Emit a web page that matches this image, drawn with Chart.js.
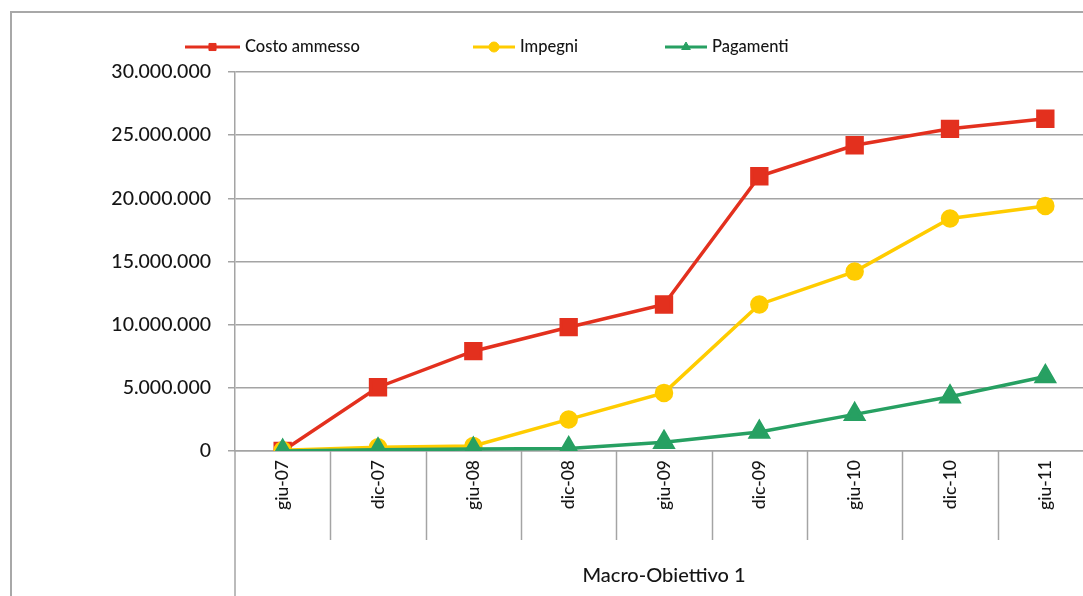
<!DOCTYPE html>
<html>
<head>
<meta charset="utf-8">
<script src="https://cdn.jsdelivr.net/npm/chart.js@4/dist/chart.umd.min.js"></script>
<style>
  html, body { margin: 0; padding: 0; background: #fff; overflow: hidden; }
  #wrap { position: relative; width: 1110px; height: 596px; }
</style>
</head>
<body>
<div id="wrap"><canvas id="c"></canvas></div>
<script>
const categories = ['giu-07','dic-07','giu-08','dic-08','giu-09','dic-09','giu-10','dic-10','giu-11'];
const costoAmmesso = [0, 5050000, 7900000, 9800000, 11600000, 21750000, 24200000, 25500000, 26300000];
const impegni = [50000, 300000, 400000, 2500000, 4600000, 11600000, 14200000, 18400000, 19400000];
const pagamenti = [0, 100000, 150000, 200000, 700000, 1500000, 2900000, 4300000, 5900000];
const seriesNames = ['Costo ammesso', 'Impegni', 'Pagamenti'];
const yTicks = [0, 5000000, 10000000, 15000000, 20000000, 25000000, 30000000];
const axisTitle = 'Macro-Obiettivo 1';

const FONT = 'Lato, "Open Sans", sans-serif';
const GRID = '#a4a4a4';
const TEXT = '#151515';

function fmt(v) {
  return String(Math.round(v)).replace(/\B(?=(\d{3})+(?!\d))/g, '.');
}

const decor = {
  id: 'decor',
  beforeDraw(chart) {
    const ctx = chart.ctx;
    ctx.save();
    ctx.strokeStyle = '#a8a8a8';
    ctx.lineWidth = 2;
    ctx.strokeRect(11, 12, chart.width + 20, chart.height + 20);
    ctx.restore();
  },
  afterDraw(chart) {
    const ctx = chart.ctx;
    const ca = chart.chartArea;
    const xs = chart.scales.x;
    const n = chart.data.labels.length;
    ctx.save();
    ctx.strokeStyle = GRID;
    ctx.lineWidth = 1.5;
    for (let i = 1; i <= n; i++) {
      const x = Math.round(xs.left + i * xs.width / n) + 0.5;
      ctx.beginPath();
      ctx.moveTo(x, ca.bottom);
      ctx.lineTo(x, ca.bottom + 89);
      ctx.stroke();
    }
    ctx.beginPath();
    ctx.moveTo(ca.left, ca.bottom);
    ctx.lineTo(ca.left, chart.height);
    ctx.stroke();

    const items = [
      { x: 185, len: 55 },
      { x: 473, len: 42 },
      { x: 665, len: 42 }
    ];
    const y = 47;
    chart.data.datasets.forEach((ds, i) => {
      const it = items[i];
      ctx.strokeStyle = ds.borderColor;
      ctx.lineWidth = 3;
      ctx.beginPath();
      ctx.moveTo(it.x, y);
      ctx.lineTo(it.x + it.len, y);
      ctx.stroke();
      ctx.fillStyle = ds.pointBackgroundColor;
      ctx.strokeStyle = ds.pointBackgroundColor;
      ctx.lineWidth = 1;
      Chart.helpers.drawPoint(ctx, { pointStyle: ds.pointStyle, radius: 5, borderWidth: 1, rotation: 0 }, it.x + it.len / 2, y);
      ctx.fillStyle = TEXT;
      ctx.font = '500 16.5px ' + FONT;
      ctx.textBaseline = 'middle';
      ctx.textAlign = 'left';
      ctx.fillText(ds.label, it.x + it.len + 5, y);
    });
    ctx.restore();
  }
};

new Chart(document.getElementById('c'), {
  type: 'line',
  data: {
    labels: categories,
    datasets: [
      { label: seriesNames[0], data: costoAmmesso, borderColor: '#E3301E', backgroundColor: '#E3301E',
        pointBackgroundColor: '#E3301E', pointBorderColor: '#E3301E', pointStyle: 'rect', pointRadius: 10.5,
        borderWidth: 3.5, order: 3 },
      { label: seriesNames[1], data: impegni, borderColor: '#FFCC00', backgroundColor: '#FFCC00',
        pointBackgroundColor: '#FFCC00', pointBorderColor: '#FFCC00', pointStyle: 'circle', pointRadius: 7.5,
        borderWidth: 3.5, order: 2 },
      { label: seriesNames[2], data: pagamenti, borderColor: '#27A062', backgroundColor: '#27A062',
        pointBackgroundColor: '#27A062', pointBorderColor: '#27A062', pointStyle: 'triangle', pointRadius: 10,
        borderWidth: 3.5, order: 1 }
    ]
  },
  options: {
    responsive: true,
    maintainAspectRatio: false,
    animation: false,
    layout: { padding: { top: 72, right: 17, bottom: 0, left: 0 } },
    plugins: { legend: { display: false }, tooltip: { enabled: false } },
    elements: { line: { tension: 0 }, point: { borderWidth: 1 } },
    scales: {
      x: {
        offset: true,
        grid: { display: true, drawOnChartArea: false, drawTicks: false, offset: true, color: GRID, lineWidth: 1.5 },
        border: { display: true, color: GRID, width: 1.5 },
        ticks: { minRotation: 90, maxRotation: 90, padding: 9, color: TEXT, font: { family: FONT, size: 17.5, weight: '500' } },
        title: { display: true, text: axisTitle, color: TEXT, font: { family: FONT, size: 20, weight: '500' }, padding: { top: 4, bottom: 8 } },
        afterFit(scale) { scale.height = 145; }
      },
      y: {
        min: 0, max: 30000000,
        afterBuildTicks(scale) { scale.ticks = yTicks.map(v => ({ value: v })); },
        grid: { color: GRID, lineWidth: 1.5, tickLength: 7 },
        border: { display: true, color: GRID, width: 1.5 },
        ticks: { padding: 17, color: TEXT, font: { family: FONT, size: 19.5, weight: '500' }, callback: v => fmt(v) },
        afterFit(scale) { scale.width = 235; }
      }
    }
  },
  plugins: [decor]
});
</script>
</body>
</html>
